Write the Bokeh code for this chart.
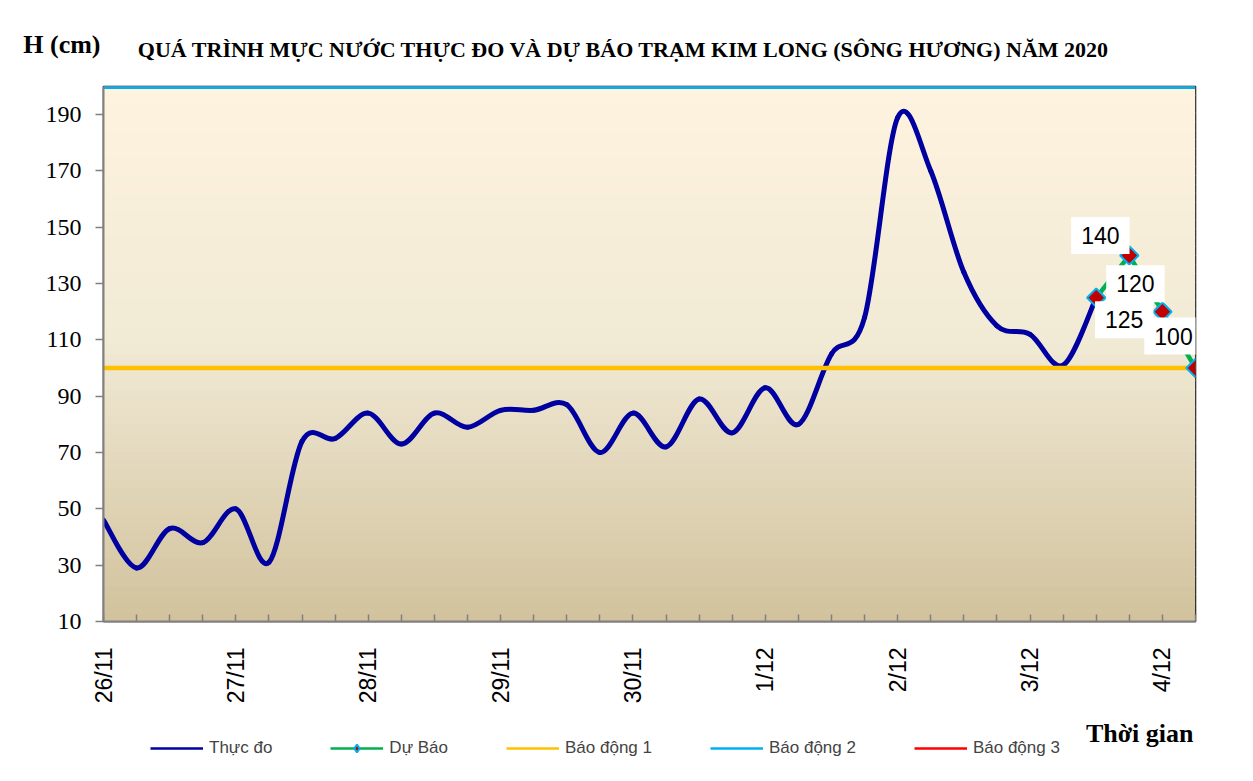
import numpy as np
from bokeh.plotting import figure
from bokeh.layouts import column
from bokeh.models import (ColumnDataSource, FixedTicker, Label, Legend, LinearAxis,
                          LegendItem, BoxAnnotation, Range1d)
from bokeh.embed import file_html
from bokeh.resources import INLINE

# ---------------- data ----------------
dates = ["26/11", "27/11", "28/11", "29/11", "30/11", "1/12", "2/12", "3/12", "4/12"]
steps_per_day = 4          # one value every 6 hours
n_steps = 34
thuc_do = [46, 29, 43, 38, 50, 31, 74, 75, 84, 73, 84, 79, 85, 85, 87, 70, 84, 72,
           89, 77, 93, 80, 105, 118, 189, 170, 134, 115, 112, 101, 125]
du_bao = [125, 140, 120, 100]
du_bao_start = 30
bao_dong_1 = 100
bao_dong_2 = 200
bao_dong_3 = 350
y_ticks = list(range(10, 200, 20))

title_text = "QUÁ TRÌNH MỰC NƯỚC THỰC ĐO VÀ DỰ BÁO TRẠM KIM LONG (SÔNG HƯƠNG) NĂM  2020"
y_label = "H (cm)"
x_label = "Thời gian"
legend_labels = ["Thực đo", "Dự Báo", "Báo động 1", "Báo động 2", "Báo động 3"]

# ---------------- styles ----------------
C_TD = "#0000A0"
C_DB = "#00B050"
C_BD1 = "#FFC000"
C_BD2 = "#00B0F0"
C_BD3 = "#FF0000"
SERIF = "Liberation Serif"
SANS = "Liberation Sans"
W = 1240
LEFT = 103
RIGHT = 1195
TOP_H = 84
MAIN_H = 627
BOT_H = 59


def blank(height):
    # frames of stacked figures line up with the main frame (LEFT..RIGHT)
    f = figure(width=W, height=height, x_range=Range1d(LEFT, RIGHT),
               y_range=Range1d(height, 0), x_axis_type=None, y_axis_type=None,
               toolbar_location=None, output_backend="svg",
               min_border_left=LEFT, min_border_right=W - RIGHT,
               min_border_top=0, min_border_bottom=0)
    f.outline_line_color = None
    f.background_fill_color = "white"
    f.border_fill_color = "white"
    f.grid.visible = False
    return f


# ---------------- header ----------------
top = blank(TOP_H)
top.add_layout(Label(x=626, y=49, text=title_text, text_align="center",
                     text_baseline="alphabetic", text_font=SERIF,
                     text_font_style="bold", text_font_size="22px",
                     text_color="black"))
# "H (cm)" sits left of the frame: drawn as the single label of a bare axis
h_axis = LinearAxis(ticker=FixedTicker(ticks=[44]),
                    major_label_overrides={44: y_label},
                    axis_line_color=None, major_tick_line_color=None,
                    minor_tick_line_color=None, major_label_standoff=-3,
                    major_label_text_font=SERIF, major_label_text_font_style="bold",
                    major_label_text_font_size="26px",
                    major_label_text_color="black")
top.add_layout(h_axis, "left")

# ---------------- main chart ----------------
x_all = list(range(n_steps))
x_td = x_all[:len(thuc_do)]
x_db = x_all[du_bao_start:du_bao_start + len(du_bao)]

p = figure(width=W, height=MAIN_H, x_range=Range1d(0, n_steps - 1),
           y_range=Range1d(10, 200), output_backend="svg", toolbar_location=None,
           min_border_left=LEFT, min_border_right=W - RIGHT, min_border_top=2,
           min_border_bottom=90)
p.background_fill_color = "#F1EAD5"
p.border_fill_color = "white"
p.outline_line_color = "black"
p.outline_line_width = 1.5
p.grid.visible = False

# gradient background (decoration)
stops_v = [10, 110, 200]
stops_c = [(0xD2, 0xC2, 0x9D), (0xF1, 0xEA, 0xD5), (0xFE, 0xF3, 0xDF)]
nb = 60
edges = np.linspace(10, 200, nb + 1)
for k in range(nb):
    mid = (edges[k] + edges[k + 1]) / 2
    rgb = [int(round(np.interp(mid, stops_v, [c[j] for c in stops_c]))) for j in range(3)]
    col = "#%02X%02X%02X" % tuple(rgb)
    p.add_layout(BoxAnnotation(bottom=edges[k], top=edges[k + 1] + 0.25,
                               fill_color=col, fill_alpha=1, line_color=None,
                               level="underlay"))

# measured series, smoothed with bezier segments through the points
xs = np.array(x_td, float)
ys = np.array(thuc_do, float)
n = len(xs)
i0 = np.arange(n - 1)
ip = np.maximum(i0 - 1, 0)
i1 = i0 + 1
i2 = np.minimum(i0 + 2, n - 1)
t = 1 / 6
bz = ColumnDataSource(dict(
    x0=xs[i0], y0=ys[i0], x1=xs[i1], y1=ys[i1],
    cx0=xs[i0] + (xs[i1] - xs[ip]) * t, cy0=ys[i0] + (ys[i1] - ys[ip]) * t,
    cx1=xs[i1] - (xs[i2] - xs[i0]) * t, cy1=ys[i1] - (ys[i2] - ys[i0]) * t))
p.bezier(x0="x0", y0="y0", x1="x1", y1="y1", cx0="cx0", cy0="cy0", cx1="cx1",
         cy1="cy1", source=bz, line_color=C_TD, line_width=5, line_cap="round")

# alarm levels
p.line(x_all, [bao_dong_1] * n_steps, line_color=C_BD1, line_width=4.5)
p.line(x_all, [bao_dong_2] * n_steps, line_color=C_BD2, line_width=5)
p.line(x_all, [bao_dong_3] * n_steps, line_color=C_BD3, line_width=3)

# forecast
p.line(x_db, du_bao, line_color=C_DB, line_width=4.5)
p.scatter(x_db, du_bao, marker="square", angle=np.pi / 4, size=13,
          fill_color="#C00000", line_color="#00B0F0", line_width=2)

# forecast labels
lab_dx = [28, -29, -27, -22]
lab_dy = [-22, 20, 28, 32]
for xv, yv, dx, dy in zip(x_db, du_bao, lab_dx, lab_dy):
    p.add_layout(Label(x=xv, y=yv, text=str(yv), x_offset=dx, y_offset=dy,
                       text_align="center", text_baseline="middle",
                       text_font=SANS, text_font_size="23px", text_color="black",
                       background_fill_color="white", padding=10))

# axes
p.xaxis.ticker = FixedTicker(ticks=x_all)
p.xaxis.major_label_overrides = {
    i: (dates[i // steps_per_day] if i % steps_per_day == 0 else "") for i in x_all}
p.xaxis.major_label_orientation = np.pi / 2
p.xaxis.major_label_text_font = SANS
p.xaxis.major_label_text_font_size = "23px"
p.xaxis.major_label_text_color = "black"
p.xaxis.major_label_standoff = 26
p.xaxis.major_tick_in = 7
p.xaxis.major_tick_out = 0
p.xaxis.minor_tick_line_color = None
p.xaxis.axis_line_color = "#808080"
p.xaxis.axis_line_width = 2
p.xaxis.major_tick_line_color = "#808080"
p.xaxis.major_tick_line_width = 1.5

p.yaxis.ticker = FixedTicker(ticks=y_ticks)
p.yaxis.major_label_text_font = SERIF
p.yaxis.major_label_text_font_size = "24px"
p.yaxis.major_label_text_color = "black"
p.yaxis.major_label_standoff = 14
p.yaxis.major_tick_in = 0
p.yaxis.major_tick_out = 8
p.yaxis.minor_tick_line_color = None
p.yaxis.axis_line_color = "#808080"
p.yaxis.axis_line_width = 2
p.yaxis.major_tick_line_color = "#808080"
p.yaxis.major_tick_line_width = 1.5

# ---------------- footer: axis title + legend ----------------
bot = blank(BOT_H)
bot.add_layout(Label(x=RIGHT - 2, y=22, text=x_label, text_align="right",
                     text_baseline="alphabetic", text_font=SERIF,
                     text_font_style="bold", text_font_size="26px",
                     text_color="black"))
nan1 = [np.nan]
r_td = bot.line(nan1, nan1, line_color=C_TD, line_width=2.5)
r_db = bot.line(nan1, nan1, line_color=C_DB, line_width=2.5)
r_dbm = bot.scatter(nan1, nan1, marker="diamond", size=12,
                    fill_color="#C00000", line_color="#00B0F0", line_width=2)
r_b1 = bot.line(nan1, nan1, line_color=C_BD1, line_width=2.5)
r_b2 = bot.line(nan1, nan1, line_color=C_BD2, line_width=2.5)
r_b3 = bot.line(nan1, nan1, line_color=C_BD3, line_width=2.5)
legend = Legend(items=[
    LegendItem(label=legend_labels[0], renderers=[r_td]),
    LegendItem(label=legend_labels[1], renderers=[r_db, r_dbm]),
    LegendItem(label=legend_labels[2], renderers=[r_b1]),
    LegendItem(label=legend_labels[3], renderers=[r_b2]),
    LegendItem(label=legend_labels[4], renderers=[r_b3]),
], orientation="horizontal", location=(150 - LEFT, 12), padding=0, margin=0,
    glyph_width=53, glyph_height=20, label_standoff=6, spacing=58,
    label_text_font=SANS, label_text_font_size="17px", border_line_color=None,
    background_fill_alpha=0)
bot.add_layout(legend)

layout = column(top, p, bot, spacing=0)
open("out.html", "w").write(file_html(layout, INLINE))
